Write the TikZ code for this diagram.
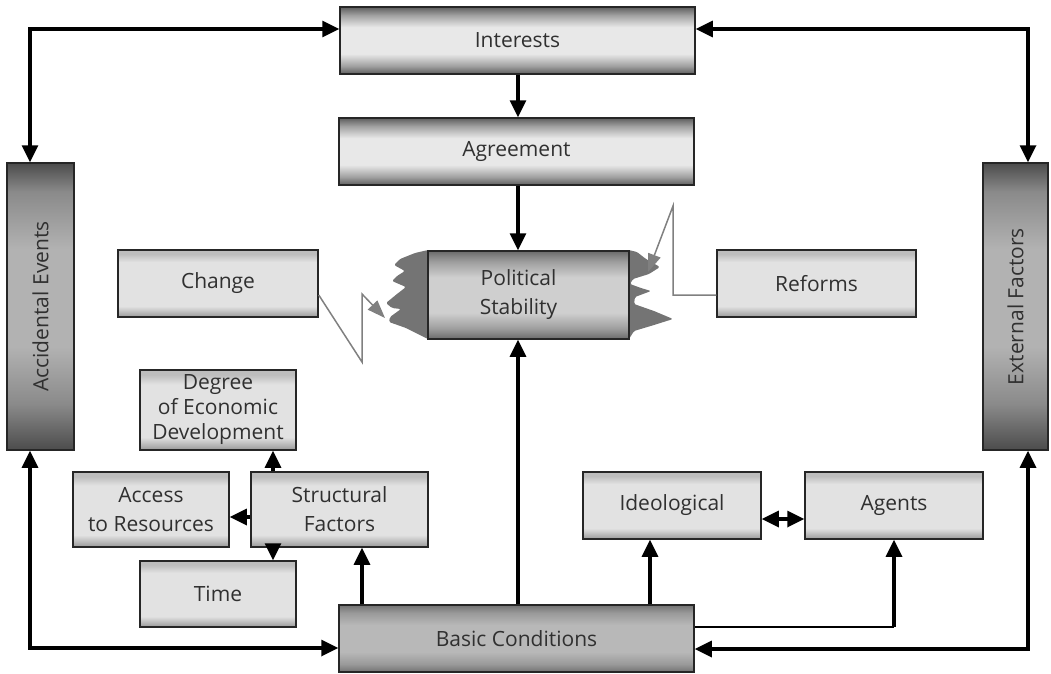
\documentclass[tikz,border=0pt]{standalone}
\usepackage{fontspec}
\setmainfont{Open Sans}
\usetikzlibrary{arrows.meta,calc}
\definecolor{txt}{HTML}{303030}
\definecolor{edge}{HTML}{262626}
\definecolor{torn}{HTML}{747474}
\definecolor{zig}{HTML}{808080}
% Interests / Agreement
\definecolor{dA}{HTML}{5E5E5E}
\definecolor{dM}{HTML}{A0A0A0}
\definecolor{dB}{HTML}{E8E8E8}
% Political Stability
\definecolor{pA}{HTML}{6A6A6A}
\definecolor{pM}{HTML}{9E9E9E}
\definecolor{pB}{HTML}{CFCFCF}
% Basic Conditions
\definecolor{bA}{HTML}{727272}
\definecolor{bM}{HTML}{9A9A9A}
\definecolor{bB}{HTML}{B8B8B8}
% side bars
\definecolor{sA}{HTML}{4C4C4C}
\definecolor{sM}{HTML}{8A8A8A}
\definecolor{sB}{HTML}{B2B2B2}
% light boxes
\definecolor{lA}{HTML}{BDBDBD}
\definecolor{lB}{HTML}{E2E2E2}
\definecolor{lC}{HTML}{999999}
\pgfdeclareverticalshading{intshade}{100bp}{color(0bp)=(dA); color(25bp)=(dA); color(31bp)=(dM);
  color(40bp)=(dB); color(60bp)=(dB); color(69bp)=(dM); color(75bp)=(dA); color(100bp)=(dA)}
\pgfdeclareverticalshading{polshade}{100bp}{color(0bp)=(pA); color(25bp)=(pA); color(31bp)=(pM);
  color(40bp)=(pB); color(60bp)=(pB); color(69bp)=(pM); color(75bp)=(pA); color(100bp)=(pA)}
\pgfdeclareverticalshading{basshade}{100bp}{color(0bp)=(bA); color(25bp)=(bA); color(31bp)=(bM);
  color(40bp)=(bB); color(60bp)=(bB); color(69bp)=(bM); color(75bp)=(bA); color(100bp)=(bA)}
\pgfdeclareverticalshading{sideshade}{100bp}{color(0bp)=(sA); color(25bp)=(sA); color(33bp)=(sM);
  color(43bp)=(sB); color(60bp)=(sB); color(70bp)=(sM); color(75bp)=(sA); color(100bp)=(sA)}
\pgfdeclareverticalshading{lightshade}{100bp}{color(0bp)=(lC); color(25bp)=(lC); color(33bp)=(lB);
  color(66bp)=(lB); color(72bp)=(lA); color(75bp)=(lA); color(100bp)=(lA)}
\tikzset{
  box/.style={draw=edge, line width=1.5pt, text=txt, align=center,
    font=\fontsize{21}{29}\selectfont, inner sep=0pt},
  darkbox/.style={box, shading=intshade},
  polbox/.style={box, shading=polshade},
  basebox/.style={box, shading=basshade},
  sidebar/.style={box, shading=sideshade},
  lightbox/.style={box, shading=lightshade},
  arr/.style={line width=3.3pt, draw=black, -{Triangle[length=17pt,width=16pt]}},
  dblarr/.style={line width=3.3pt, draw=black, {Triangle[length=17pt,width=16pt]}-{Triangle[length=17pt,width=16pt]}},
  thinline/.style={line width=1.4pt, draw=black},
  zigline/.style={line width=1.5pt, draw=zig, -{Triangle[length=18pt,width=13pt]}},
  sidetext/.style={text=txt, font=\fontsize{21}{29}\selectfont, rotate=90},
}
\begin{document}
\begin{tikzpicture}[x=1pt,y=-1pt]
\useasboundingbox (0,0) rectangle (1051,673);

% torn edges behind Political Stability
\fill[torn, rounded corners=1.5pt] (428,250) -- (415,253) -- (400,259) -- (394,265) -- (405,271) -- (397,276)
  -- (392,281) -- (406,287) -- (397,294) -- (386,303) -- (392,308) -- (401,309) -- (390,317)
  -- (389,322) -- (406,328) -- (428,339) -- cycle;
\fill[torn, rounded corners=1.5pt] (629,250) -- (637,252) -- (646,259) -- (660,267) -- (649,274) -- (633,279)
  -- (630,284) -- (641,288) -- (651,291) -- (635,297) -- (634,304) -- (654,311) -- (673,319)
  -- (654,325) -- (634,331) -- (629,339) -- cycle;

% nodes
\node[darkbox, minimum width=355pt, minimum height=67pt] (int) at (517.5,40.5) {Interests};
\node[darkbox, minimum width=355pt, minimum height=67pt] (agr) at (516.5,151.5) {Agreement};
\node[polbox, minimum width=201pt, minimum height=88pt] (pol) at (528.5,295)
  {\hspace*{-20pt}Political\\\hspace*{-20pt}Stability};
\node[lightbox, minimum width=200pt, minimum height=67pt] (chg) at (218,283.5) {Change};
\node[lightbox, minimum width=199pt, minimum height=67pt] (ref) at (816.5,283.5) {Reforms};
\node[sidebar, minimum width=67pt, minimum height=287pt] (acc) at (40.5,306.5) {};
\node[sidetext] at (acc) {Accidental Events};
\node[sidebar, minimum width=65pt, minimum height=287pt] (ext) at (1015.5,306.5) {};
\node[sidetext] at (ext) {External Factors};
\node[lightbox, minimum width=156pt, minimum height=80pt, font=\fontsize{21}{25}\selectfont] (deg) at (218,410)
  {Degree\\of Economic\\Development};
\node[lightbox, minimum width=156pt, minimum height=75pt] (acs) at (151,509.5) {Access\\to Resources};
\node[lightbox, minimum width=177pt, minimum height=75pt] (str) at (339.5,509.5) {Structural\\Factors};
\node[lightbox, minimum width=156pt, minimum height=66pt] (tim) at (218,594) {Time};
\node[basebox, minimum width=355pt, minimum height=67pt] (bas) at (516.5,638.5) {Basic Conditions};
\node[lightbox, minimum width=178pt, minimum height=67pt] (ideo) at (672,505.5) {Ideological};
\node[lightbox, minimum width=178pt, minimum height=67pt] (agt) at (894,505.5) {Agents};

% helper coordinates
\coordinate (tl) at (30,29);
\coordinate (tr) at (1028,29);
\coordinate (bl) at (30,648);
\coordinate (br) at (1028,649);
\coordinate (cx) at (518,0);
\coordinate (sx) at (362,0);
\coordinate (dx) at (273,0);
\coordinate (ay) at (0,517);
\coordinate (ix) at (650,0);
\coordinate (iy) at (0,519);
\coordinate (gy) at (0,627);
\coordinate (gc) at (894,627);
\coordinate (cz1) at (362,362);
\coordinate (cz2) at (362,294);
\coordinate (cz3) at (385,318);
\coordinate (rz1) at (673,295);
\coordinate (rz2) at (673,206);
\coordinate (rz3) at (648,272);

% connectors
\draw[dblarr] (acc.north -| tl) |- (int.west |- tl);
\draw[dblarr] (ext.north -| tr) |- (int.east |- tr);
\draw[dblarr] (acc.south -| bl) |- (bas.west |- bl);
\draw[dblarr] (ext.south -| br) |- (bas.east |- br);
\draw[arr] (int.south -| cx) -- (agr.north -| cx);
\draw[arr] (agr.south -| cx) -- (pol.north -| cx);
\draw[arr] (bas.north -| cx) -- (pol.south -| cx);
\draw[arr] (bas.north -| sx) -- (str.south -| sx);
\draw[arr] (str.north -| dx) -- (deg.south -| dx);
\draw[arr] (str.south -| dx) -- (tim.north -| dx);
\draw[arr] (str.west |- ay) -- (acs.east |- ay);
\draw[arr] (bas.north -| ix) -- (ideo.south -| ix);
\draw[dblarr] (ideo.east |- iy) -- (agt.west |- iy);
\draw[thinline] (bas.east |- gy) -- (gc);
\draw[arr] (gc) -- (agt.south -| gc);
\draw[zigline] (chg.east |- 0,295) -- (cz1) -- (cz2) -- (cz3);
\draw[zigline] (ref.west |- 0,295) -- (rz1) -- (rz2) -- (rz3);
\end{tikzpicture}
\end{document}
